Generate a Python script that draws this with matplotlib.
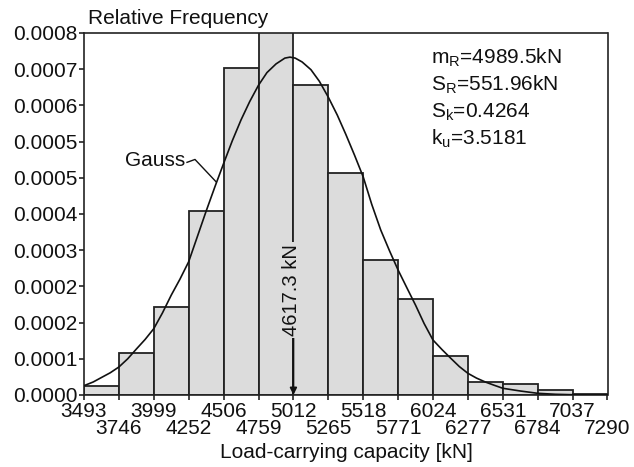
import matplotlib
matplotlib.use("Agg")
import matplotlib.pyplot as plt
import numpy as np

plt.rcParams['font.family'] = ['Liberation Sans', 'DejaVu Sans']
plt.rcParams['mathtext.fontset'] = 'custom'
plt.rcParams['mathtext.rm'] = 'Liberation Sans'
plt.rcParams['mathtext.it'] = 'Liberation Sans:italic'

# ---- data ----
bin_edges = [3493, 3746, 3999, 4252, 4506, 4759, 5012, 5265, 5518, 5771,
             6024, 6277, 6531, 6784, 7037, 7290]
edge_labels = ["3493", "3746", "3999", "4252", "4506", "4759", "5012", "5265",
               "5518", "5771", "6024", "6277", "6531", "6784", "7037", "7290"]
rel_freq = [1.93e-5, 8.70e-5, 1.83e-4, 3.82e-4, 6.77e-4, 7.60e-4, 6.42e-4,
            4.59e-4, 2.80e-4, 1.98e-4, 8.0e-5, 2.6e-5, 2.3e-5, 1.1e-5, 2.0e-6]

gauss_x = [3493, 3560, 3620, 3683, 3746, 3810, 3873, 3936, 3999, 4062, 4126,
           4189, 4252, 4315, 4379, 4442, 4506, 4569, 4632, 4695, 4759, 4820,
           4886, 4950, 4987, 5025, 5075, 5139, 5200, 5265, 5330, 5392, 5455,
           5518, 5580, 5645, 5710, 5771, 5835, 5898, 5960, 6024, 6090, 6151,
           6215, 6277, 6340, 6404, 6470, 6531, 6657, 6784, 6911, 7037, 7164,
           7290]
gauss_y = [1.93e-5, 2.70e-5, 3.63e-5, 4.60e-5, 5.80e-5, 7.50e-5, 9.53e-5,
           1.15e-4, 1.374e-4, 1.70e-4, 2.07e-4, 2.40e-4, 2.76e-4, 3.28e-4,
           3.81e-4, 4.31e-4, 4.80e-4, 5.27e-4, 5.70e-4, 6.08e-4, 6.42e-4,
           6.68e-4, 6.86e-4, 6.98e-4, 7.00e-4, 6.98e-4, 6.90e-4, 6.74e-4,
           6.50e-4, 6.17e-4, 5.80e-4, 5.40e-4, 4.97e-4, 4.52e-4, 3.95e-4,
           3.42e-4, 2.98e-4, 2.59e-4, 2.22e-4, 1.86e-4, 1.48e-4, 1.14e-4,
           9.40e-5, 7.67e-5, 5.90e-5, 4.50e-5, 3.50e-5, 2.69e-5, 2.00e-5,
           1.39e-5, 8.3e-6, 3.5e-6, 1.5e-6, 6e-7, 0.0, 0.0]

ytick_vals = [0, 0.000075, 0.00015, 0.000225, 0.0003, 0.000375, 0.00045,
              0.000525, 0.0006, 0.000675, 0.00075]
ytick_labels = ["0.0000", "0.0001", "0.0002", "0.0002", "0.0003", "0.0004",
                "0.0005", "0.0005", "0.0006", "0.0007", "0.0008"]

stats_lines = [r"m$_\mathregular{R}$=4989.5kN", r"S$_\mathregular{R}$=551.96kN",
               r"S$_\mathregular{k}$=0.4264", r"k$_\mathregular{u}$=3.5181"]
marker_value = 5012
marker_text = "4617.3 kN"

FS = 15

# ---- figure ----
fig = plt.figure(figsize=(6.34, 4.67), dpi=100)
ax = fig.add_axes([84/634, 1-395/467, (607.5-84)/634, (395-33)/467])

widths = np.diff(bin_edges)
ax.bar(bin_edges[:-1], rel_freq, width=widths, align='edge',
       color='#dcdcdc', edgecolor='#222222', linewidth=1.3, zorder=2)
ax.plot(gauss_x, gauss_y, color='#111111', linewidth=1.2, zorder=3)

ax.set_xlim(bin_edges[0], bin_edges[-1])
ax.set_ylim(0, 0.00075)

ax.set_yticks(ytick_vals)
ax.set_yticklabels(ytick_labels)
ax.set_xticks(bin_edges[0::2], labels=edge_labels[0::2])
ax.set_xticks(bin_edges[1::2], labels=edge_labels[1::2], minor=True)
ax.tick_params(axis='both', which='both', direction='out', length=3.5,
               width=1.1, labelsize=FS, colors='#111111')
ax.tick_params(axis='x', which='major', pad=1.5)
ax.tick_params(axis='x', which='minor', pad=14)
ax.tick_params(axis='y', pad=1)

for s in ax.spines.values():
    s.set_linewidth(1.2)
    s.set_color('#222222')

# Annotations
ax.annotate("", xy=(marker_value, 0), xytext=(marker_value, 1.30e-4),
            arrowprops=dict(arrowstyle='-|>', color='#111111', lw=1.3,
                            mutation_scale=10, shrinkA=0, shrinkB=0), zorder=5)
ax.text(marker_value - 15, 2.17e-4, marker_text, rotation=90, ha='center',
        va='center', fontsize=FS - 0.5, color='#111111', zorder=6,
        bbox=dict(facecolor='#dcdcdc', edgecolor='none', pad=1.5))

ax.text(4230, 4.86e-4, "Gauss", ha='right', va='center', fontsize=FS,
        color='#111111', zorder=6)
ax.plot([4240, 4298, 4450], [4.82e-4, 4.88e-4, 4.42e-4], color='#111111',
        lw=1.0, zorder=6)

for i, line in enumerate(stats_lines):
    fig.text(431/634, 1 - (58 + 27*i)/467, line, ha='left', va='center',
             fontsize=FS, color='#111111')

fig.text(88/634, 1 - 18/467, "Relative Frequency", ha='left', va='center',
         fontsize=FS, color='#111111')
fig.text(346/634, 1 - 452/467, "Load-carrying capacity [kN]", ha='center',
         va='center', fontsize=FS, color='#111111')

fig.savefig("out.png", dpi=100)
